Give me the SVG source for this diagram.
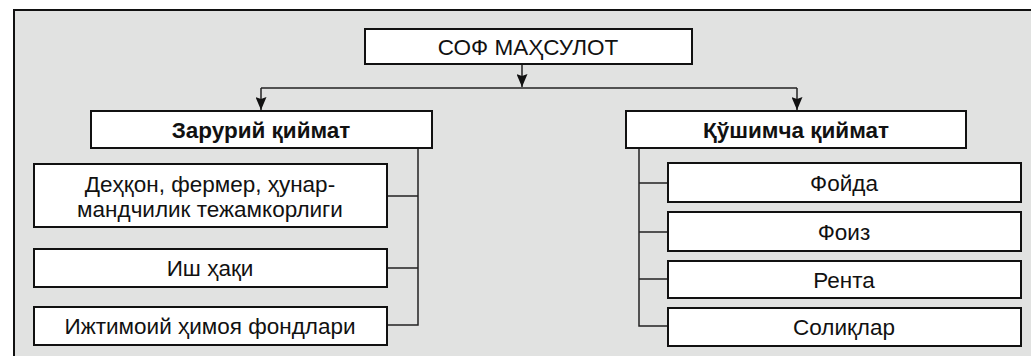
<svg xmlns="http://www.w3.org/2000/svg" width="1031" height="356" viewBox="0 0 1031 356">
<style>
.bg{fill:#e1e2e1;stroke:#111;stroke-width:2}
.box{fill:#fff;stroke:#111;stroke-width:2}
.t{font-family:"Liberation Sans",Arial,sans-serif;font-size:22.5px;fill:#111;text-anchor:middle}
.b{font-weight:bold}
.ln{fill:none;stroke:#222;stroke-width:1.5}
</style>
<defs>
<marker id="ah" markerWidth="13" markerHeight="11" refX="13" refY="5.5" orient="auto" markerUnits="userSpaceOnUse">
<path d="M0,0 L13,5.5 L0,11 L2,5.5 Z" fill="#111"/>
</marker>
</defs>
<rect class="bg" x="14" y="10" width="1030" height="360"/>
<g id="connectors">
<path class="ln" d="M522,64 V87" marker-end="url(#ah)"/>
<path class="ln" d="M261,88 H797"/>
<path class="ln" d="M261,88 V110" marker-end="url(#ah)"/>
<path class="ln" d="M797,88 V110" marker-end="url(#ah)"/>
<path class="ln" d="M418,148 V325 H387 M418,196 H387 M418,268 H387"/>
<path class="ln" d="M639,148 V326 H668 M639,183 H668 M639,232 H668 M639,279 H668"/>
</g>
<g id="n-sof"><rect class="box" x="365" y="29" width="327" height="35"/><text class="t" x="528" y="55">СОФ МАҲСУЛОТ</text></g>
<g id="n-zaruriy"><rect class="box" x="91" y="111" width="341" height="37"/><text class="t b" x="261" y="137.5">Зарурий қиймат</text></g>
<g id="n-qoshimcha"><rect class="box" x="626" y="111" width="340" height="37"/><text class="t b" x="796" y="137.5">Қўшимча қиймат</text></g>
<g id="n-dehqon"><rect class="box" x="34" y="164" width="353" height="63"/><text class="t" x="210" y="192">Деҳқон, фермер, ҳунар-</text><text class="t" x="210" y="217">мандчилик тежамкорлиги</text></g>
<g id="n-ish"><rect class="box" x="34" y="249" width="353" height="38"/><text class="t" x="210" y="276">Иш ҳақи</text></g>
<g id="n-ijtimoiy"><rect class="box" x="34" y="307" width="353" height="38"/><text class="t" x="210" y="334">Ижтимоий ҳимоя фондлари</text></g>
<g id="n-foyda"><rect class="box" x="668" y="163" width="353" height="39"/><text class="t" x="844" y="191">Фойда</text></g>
<g id="n-foiz"><rect class="box" x="668" y="212" width="353" height="39"/><text class="t" x="844" y="240">Фоиз</text></g>
<g id="n-renta"><rect class="box" x="668" y="261" width="353" height="37"/><text class="t" x="844" y="288">Рента</text></g>
<g id="n-soliq"><rect class="box" x="668" y="308" width="353" height="38"/><text class="t" x="844" y="335">Солиқлар</text></g>
</svg>
